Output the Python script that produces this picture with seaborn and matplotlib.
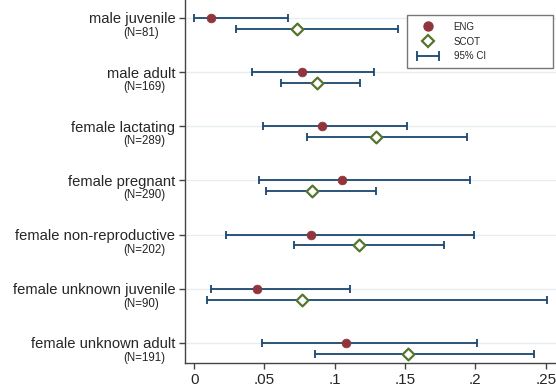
import numpy as np
import pandas as pd
import matplotlib
matplotlib.use("Agg")
import matplotlib.pyplot as plt
from matplotlib.lines import Line2D
from matplotlib.legend_handler import HandlerLine2D
import seaborn as sns

# values
categories = ["male juvenile", "male adult", "female lactating", "female pregnant",
              "female non-reproductive", "female unknown juvenile", "female unknown adult"]
n_obs = [81, 169, 289, 290, 202, 90, 191]

eng_est = [0.012, 0.077, 0.091, 0.105, 0.083, 0.045, 0.108]
eng_lo = [0.000, 0.041, 0.049, 0.046, 0.023, 0.012, 0.048]
eng_hi = [0.067, 0.128, 0.151, 0.196, 0.199, 0.111, 0.201]

scot_est = [0.073, 0.087, 0.129, 0.084, 0.117, 0.077, 0.152]
scot_lo = [0.030, 0.062, 0.080, 0.051, 0.071, 0.009, 0.086]
scot_hi = [0.145, 0.118, 0.194, 0.129, 0.178, 0.251, 0.242]

xticks = [0, 0.05, 0.1, 0.15, 0.2, 0.25]
xticklabels = ["0", ".05", ".1", ".15", ".2", ".25"]

# Stata s2color-like colours
ENG_COL = "#90353b"
SCOT_COL = "#55752f"
CI_COL = "#1a476f"
GRID_COL = "#e6eef1"

sns.set_theme(style="white")
plt.rcParams["font.family"] = ["Liberation Sans", "DejaVu Sans"]

pos = np.arange(len(categories))
df = pd.concat([
    pd.DataFrame({"cat": categories, "group": "ENG", "est": eng_est,
                  "lo": eng_lo, "hi": eng_hi, "y": pos}),
    pd.DataFrame({"cat": categories, "group": "SCOT", "est": scot_est,
                  "lo": scot_lo, "hi": scot_hi, "y": pos + 0.2}),
], ignore_index=True)

fig = plt.figure(figsize=(5.56, 3.89), dpi=100)
ax = fig.add_axes([0.333, 0.067, 0.667, 0.933])

# gridlines at each category
for p in pos:
    ax.axhline(p, color=GRID_COL, lw=1.0, zorder=0)

# confidence intervals
for _, r in df.iterrows():
    ax.errorbar(r["est"], r["y"], xerr=[[r["est"] - r["lo"]], [r["hi"] - r["est"]]],
                fmt="none", ecolor=CI_COL, elinewidth=1.3, capsize=3, capthick=1.3, zorder=2)

eng = df[df["group"] == "ENG"]
scot = df[df["group"] == "SCOT"]
sns.scatterplot(data=eng, x="est", y="y", ax=ax, marker="o", s=40,
                color=ENG_COL, edgecolor=ENG_COL, linewidth=0.5, zorder=3)
sns.scatterplot(data=scot, x="est", y="y", ax=ax, marker="D", s=36,
                facecolor="white", edgecolor=SCOT_COL, linewidth=1.6, zorder=3)

ax.set_xlim(-0.0064, 0.2573)
ax.set_ylim(6.37, -0.33)
ax.set_xticks(xticks)
ax.set_xticklabels(xticklabels, fontsize=11)
ax.set_yticks(pos)
ax.set_yticklabels(categories, fontsize=10.6)
ax.set_xlabel("")
ax.set_ylabel("")
ax.tick_params(axis="both", which="both", length=4, width=1, color="#444444",
               left=True, bottom=True)
ax.tick_params(axis="y", pad=3)
ax.tick_params(axis="x", pad=3)

for side in ["top", "right"]:
    ax.spines[side].set_visible(False)
for side in ["left", "bottom"]:
    ax.spines[side].set_color("#444444")
    ax.spines[side].set_linewidth(1)

# sample size under each label
for p, n in zip(pos, n_obs):
    ax.annotate(f"(N={n})", xy=(0, p), xycoords=("axes fraction", "data"),
                xytext=(-62, -15), textcoords="offset pixels",
                ha="left", va="center", fontsize=8.3, color="#222222")

handles = [
    Line2D([], [], ls="none", marker="o", markersize=6.5, color=ENG_COL),
    Line2D([], [], ls="none", marker="D", markersize=6, markerfacecolor="white",
           markeredgecolor=SCOT_COL, markeredgewidth=1.6),
    Line2D([], [], color=CI_COL, lw=1.3, marker="|", markersize=7, markeredgewidth=1.3),
]
leg = ax.legend(handles, ["ENG", "SCOT", "95% CI"], loc="upper left",
                bbox_to_anchor=(0.598, 0.959, 0.394, 0.0), mode="expand",
                borderaxespad=0, fontsize=7, frameon=True, fancybox=False,
                edgecolor="#555555", handlelength=2.9, labelspacing=0.5,
                borderpad=0.7, handletextpad=1.2,
                handler_map={handles[2]: HandlerLine2D(numpoints=2)})
leg.get_frame().set_linewidth(1)

fig.savefig("out.png", dpi=100)
